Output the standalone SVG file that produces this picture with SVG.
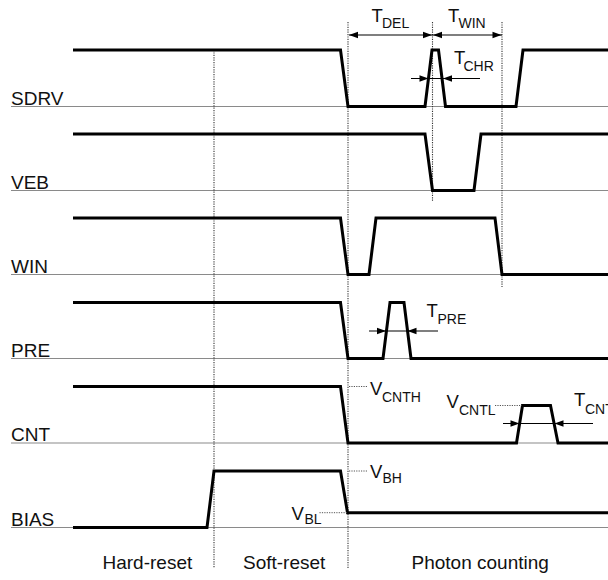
<svg xmlns="http://www.w3.org/2000/svg" xmlns:xlink="http://www.w3.org/1999/xlink" width="608" height="580" viewBox="0 0 608 580">
  <style>
    .base { stroke: #8a8a8a; stroke-width: 1.2; fill: none; }
    .sig { stroke: #000; stroke-width: 3; fill: none; stroke-linejoin: miter; stroke-miterlimit: 10; }
    .vdot { stroke: #333; stroke-width: 1.1; stroke-dasharray: 1.2 1.2; fill: none; }
    .lead { stroke: #555; stroke-width: 1; stroke-dasharray: 1.2 1.2; fill: none; }
    .dim { stroke: #000; stroke-width: 1.2; fill: none; }
    .ah { fill: #000; }
    text { font-family: "Liberation Sans", Arial, sans-serif; fill: #111; }
    .lbl { font-size: 19px; }
    .main { font-size: 18.5px; }
    .sub { font-size: 14px; }
  </style>
  <defs>
    <!-- arrowhead pointing right, tip at origin -->
    <path id="ah" class="ah" d="M0,0 L-9,-3.2 L-9,3.2 Z"/>
  </defs>

  <!-- signal reference lines -->
  <g id="baselines">
    <line class="base" x1="11" y1="106.5" x2="608" y2="106.5"/>
    <line class="base" x1="11" y1="190.5" x2="608" y2="190.5"/>
    <line class="base" x1="11" y1="274.5" x2="608" y2="274.5"/>
    <line class="base" x1="11" y1="358.5" x2="608" y2="358.5"/>
    <line class="base" x1="11" y1="443" x2="608" y2="443"/>
    <line class="base" x1="11" y1="527.5" x2="608" y2="527.5"/>
  </g>

  <!-- phase boundaries -->
  <g id="phase-markers">
    <line class="vdot" x1="214" y1="50" x2="214" y2="568"/>
    <line class="vdot" x1="348" y1="22" x2="348" y2="568"/>
    <line class="vdot" x1="432.5" y1="22" x2="432.5" y2="202"/>
    <line class="vdot" x1="502" y1="22" x2="502" y2="287"/>
  </g>

  <g id="sdrv">
    <text class="lbl" x="11" y="104.5">SDRV</text>
    <polyline class="sig" points="73,50 340.5,50 348,106.5 425,106.5 432,50 438.5,50 445.5,106.5 516,106.5 523,50 608,50"/>
  </g>

  <g id="veb">
    <text class="lbl" x="11" y="188.5">VEB</text>
    <polyline class="sig" points="73,134 425,134 432.5,190.5 474,190.5 481,134 608,134"/>
  </g>

  <g id="win">
    <text class="lbl" x="11" y="272.5">WIN</text>
    <polyline class="sig" points="73,218 340.5,218 348,274.5 369,274.5 376,218 495,218 502,274.5 608,274.5"/>
  </g>

  <g id="pre">
    <text class="lbl" x="11" y="356.5">PRE</text>
    <polyline class="sig" points="73,302.5 340.5,302.5 348,358.5 383,358.5 390,302.5 404,302.5 411,358.5 608,358.5"/>
  </g>

  <g id="cnt">
    <text class="lbl" x="11" y="441">CNT</text>
    <polyline class="sig" points="73,386.5 340.5,386.5 348,443 516.5,443 522.5,405.5 550.5,405.5 558,443 608,443"/>
  </g>

  <g id="bias">
    <text class="lbl" x="11" y="525.5">BIAS</text>
    <polyline class="sig" points="73,527.5 207,527.5 214,471 340.5,471 347.5,512.7 608,512.7"/>
  </g>

  <!-- timing and level annotations -->
  <g id="connectors">
    <!-- T_DEL / T_WIN -->
    <line class="dim" x1="349" y1="35" x2="502" y2="35"/>
    <use xlink:href="#ah" transform="translate(349,35) scale(-1,1)"/>
    <use xlink:href="#ah" transform="translate(432,35)"/>
    <use xlink:href="#ah" transform="translate(433,35) scale(-1,1)"/>
    <use xlink:href="#ah" transform="translate(501.5,35)"/>
    <!-- T_CHR -->
    <line class="dim" x1="411" y1="78.5" x2="480" y2="78.5"/>
    <use xlink:href="#ah" transform="translate(428.5,78.5)"/>
    <use xlink:href="#ah" transform="translate(443,78.5) scale(-1,1)"/>
    <!-- T_PRE -->
    <line class="dim" x1="369" y1="331" x2="438" y2="331"/>
    <use xlink:href="#ah" transform="translate(386,331)"/>
    <use xlink:href="#ah" transform="translate(407.5,331) scale(-1,1)"/>
    <!-- T_CNT -->
    <line class="dim" x1="503" y1="423.5" x2="593" y2="423.5"/>
    <use xlink:href="#ah" transform="translate(519.5,423.5)"/>
    <use xlink:href="#ah" transform="translate(554.5,423.5) scale(-1,1)"/>
    <!-- level leaders -->
    <line class="lead" x1="349" y1="386.5" x2="368" y2="386.5"/>
    <line class="lead" x1="495" y1="405.5" x2="522" y2="405.5"/>
    <line class="lead" x1="349" y1="471" x2="368" y2="471"/>
    <line class="lead" x1="319.5" y1="512.7" x2="347" y2="512.7"/>
  </g>

  <g id="annotations">
    <text class="main" x="371.5" y="21.7">T</text><text class="sub" x="382" y="28.3">DEL</text>
    <text class="main" x="448" y="21.7">T</text><text class="sub" x="458.5" y="28.3">WIN</text>
    <text class="main" x="454" y="64">T</text><text class="sub" x="463.5" y="70.5">CHR</text>
    <text class="main" x="426.5" y="316.5">T</text><text class="sub" x="437.5" y="323.5">PRE</text>
    <text class="main" x="370" y="394.5">V</text><text class="sub" x="382" y="401.5">CNTH</text>
    <text class="main" x="446.5" y="407.5">V</text><text class="sub" x="459" y="414.5">CNTL</text>
    <text class="main" x="574" y="406">T</text><text class="sub" x="585" y="414">CNT</text>
    <text class="main" x="370" y="478.3">V</text><text class="sub" x="382.5" y="483">BH</text>
    <text class="main" x="291.5" y="519.5">V</text><text class="sub" x="304.5" y="524">BL</text>
  </g>

  <g id="phases">
    <text class="lbl" x="102.5" y="569">Hard-reset</text>
    <text class="lbl" x="243" y="569">Soft-reset</text>
    <text class="lbl" x="411.5" y="569">Photon counting</text>
  </g>
</svg>
